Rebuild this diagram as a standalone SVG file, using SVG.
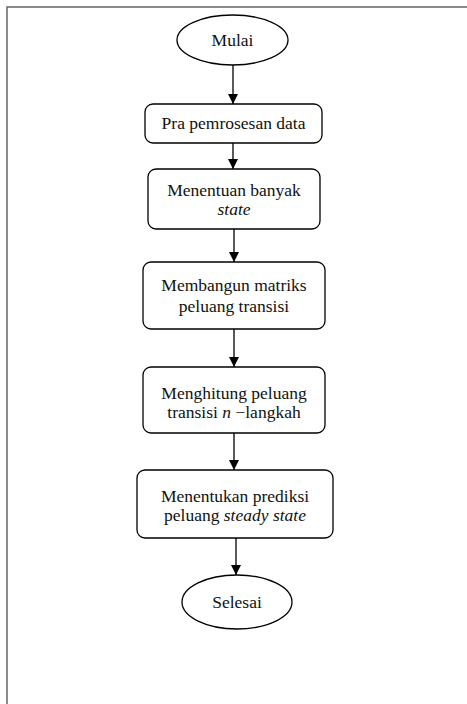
<svg xmlns="http://www.w3.org/2000/svg" width="467" height="704" viewBox="0 0 467 704">
<defs>
<style>
.frame{stroke:#666;stroke-width:1.5;fill:none}
.shape{fill:#fff;stroke:#000;stroke-width:1.3}
.edge{stroke:#000;stroke-width:1.3;fill:none}
text{font-family:'Liberation Serif','DejaVu Serif',serif;font-size:17.5px;fill:#111;text-anchor:middle}
.i{font-style:italic}
</style>
<marker id="ah" viewBox="0 0 10 10" refX="10" refY="5" markerWidth="10" markerHeight="10" markerUnits="userSpaceOnUse" orient="auto">
<path d="M0,0 L10,5 L0,10 z" fill="#000"/>
</marker>
</defs>
<rect width="467" height="704" fill="#fff"/>
<path class="frame" d="M7,704 L7,7 L467,7"/>
<g id="connectors">
<line class="edge" x1="233" y1="65" x2="233" y2="104" marker-end="url(#ah)"/>
<line class="edge" x1="233" y1="143" x2="233" y2="169" marker-end="url(#ah)"/>
<line class="edge" x1="234" y1="229" x2="234" y2="262" marker-end="url(#ah)"/>
<line class="edge" x1="234" y1="329" x2="234" y2="367" marker-end="url(#ah)"/>
<line class="edge" x1="234" y1="433" x2="234" y2="470" marker-end="url(#ah)"/>
<line class="edge" x1="236" y1="538" x2="236" y2="575" marker-end="url(#ah)"/>
</g>
<g id="mulai">
<ellipse class="shape" cx="232.5" cy="40" rx="55.5" ry="25"/>
<text x="232.5" y="46" font-family="Liberation Serif, serif">Mulai</text>
</g>
<g id="pra">
<rect class="shape" x="145" y="104" width="177" height="39" rx="8"/>
<text x="233.5" y="129" font-family="Liberation Serif, serif">Pra pemrosesan data</text>
</g>
<g id="banyak-state">
<rect class="shape" x="148" y="169" width="172" height="60" rx="8"/>
<text x="234" y="196" font-family="Liberation Serif, serif">Menentuan banyak</text>
<text class="i" x="234" y="215" font-family="Liberation Serif, serif">state</text>
</g>
<g id="matriks">
<rect class="shape" x="143" y="262" width="182" height="67" rx="8"/>
<text x="234" y="291" font-family="Liberation Serif, serif">Membangun matriks</text>
<text x="234" y="312" font-family="Liberation Serif, serif">peluang transisi</text>
</g>
<g id="n-langkah">
<rect class="shape" x="143" y="367" width="182" height="66" rx="8"/>
<text x="234" y="399" font-family="Liberation Serif, serif">Menghitung peluang</text>
<text x="234" y="418" font-family="Liberation Serif, serif">transisi <tspan class="i">n</tspan> −langkah</text>
</g>
<g id="steady-state">
<rect class="shape" x="137" y="470" width="196" height="68" rx="8"/>
<text x="235" y="502" font-family="Liberation Serif, serif">Menentukan prediksi</text>
<text x="235" y="521" font-family="Liberation Serif, serif">peluang <tspan class="i">steady state</tspan></text>
</g>
<g id="selesai">
<ellipse class="shape" cx="237" cy="602" rx="55" ry="27"/>
<text x="237" y="608" font-family="Liberation Serif, serif">Selesai</text>
</g>
</svg>
